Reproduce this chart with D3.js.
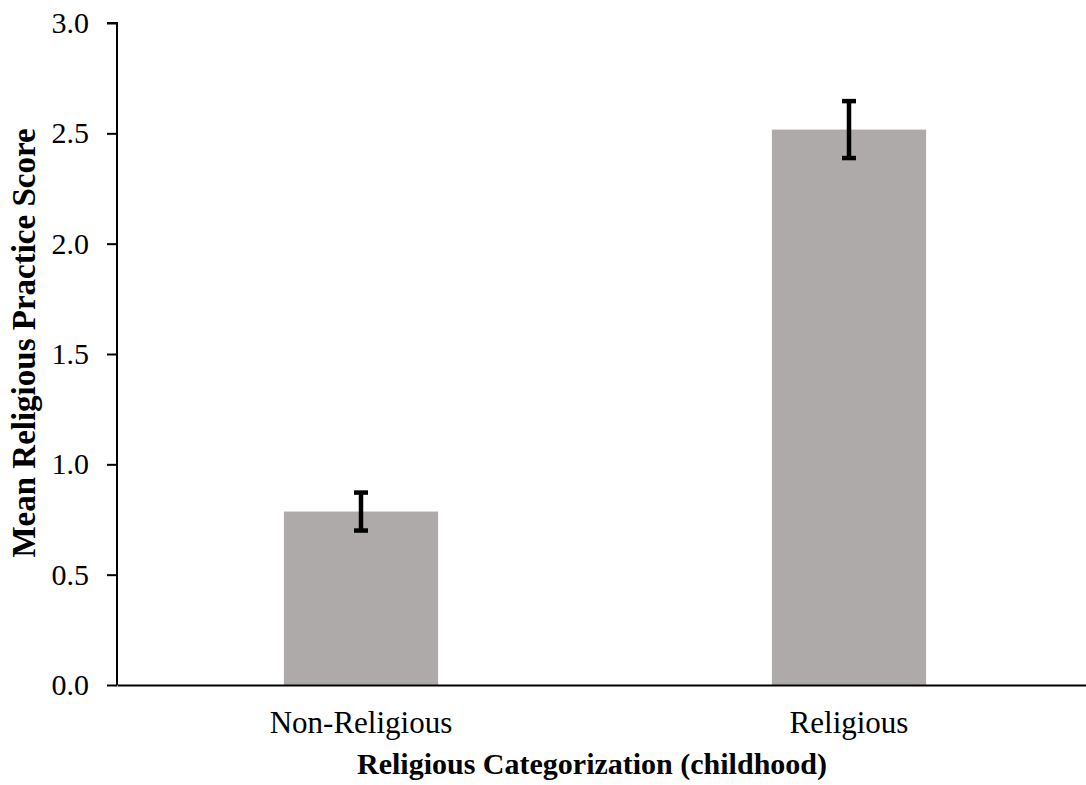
<!DOCTYPE html>
<html>
<head>
<meta charset="utf-8">
<script src="https://cdn.jsdelivr.net/npm/d3@7"></script>
<style>
  html, body { margin: 0; padding: 0; background: #fff; }
  svg { display: block; }
  text { font-family: "Liberation Serif", "Times New Roman", serif; fill: #000; }
</style>
</head>
<body>
<svg id="chart" width="1086" height="785"></svg>
<script>
// Mean religious practice score by childhood religious categorization
const categories = ["Non-Religious", "Religious"];
const means = [0.786, 2.517];
const errors = [0.086, 0.129];
const yTicks = [0.0, 0.5, 1.0, 1.5, 2.0, 2.5, 3.0];

const svg = d3.select("#chart");
const margin = { left: 117, top: 23 };
const plotBottom = 685;

const x = d3.scaleBand()
  .domain(categories)
  .range([margin.left, 1093])
  .padding(0);

const y = d3.scaleLinear()
  .domain([0, 3])
  .range([plotBottom, margin.top]);

const barWidth = x.bandwidth() * 0.316;

// bars
svg.append("g")
  .selectAll("rect")
  .data(categories)
  .join("rect")
  .attr("x", d => x(d) + x.bandwidth() / 2 - barWidth / 2)
  .attr("y", (d, i) => y(means[i]))
  .attr("width", barWidth)
  .attr("height", (d, i) => y(0) - y(means[i]))
  .attr("fill", "#aeaaa9");

// error bars (mean ± error)
const eb = svg.append("g")
  .attr("stroke", "#000")
  .attr("stroke-width", 4.5)
  .attr("fill", "none");
categories.forEach((c, i) => {
  const cx = x(c) + x.bandwidth() / 2;
  const hi = y(means[i] + errors[i]);
  const lo = y(means[i] - errors[i]);
  eb.append("line").attr("x1", cx).attr("x2", cx).attr("y1", hi).attr("y2", lo);
  eb.append("line").attr("x1", cx - 7).attr("x2", cx + 7).attr("y1", hi).attr("y2", hi);
  eb.append("line").attr("x1", cx - 7).attr("x2", cx + 7).attr("y1", lo).attr("y2", lo);
});

// y axis
const yAxis = svg.append("g")
  .attr("transform", `translate(${margin.left},0)`)
  .call(d3.axisLeft(y).tickValues(yTicks).tickFormat(d3.format(".1f")).tickSize(10).tickPadding(18));
yAxis.select(".domain").attr("stroke", "#000").attr("stroke-width", 2).attr("d", `M-10,${y(3)}H0V${y(0)}`);
yAxis.selectAll(".tick line").attr("stroke", "#000").attr("stroke-width", 2);
yAxis.selectAll(".tick text")
  .attr("font-family", "Liberation Serif, serif")
  .attr("font-size", 30)
  .attr("fill", "#000");

// x axis
const xAxis = svg.append("g")
  .attr("transform", `translate(0,${plotBottom})`)
  .call(d3.axisBottom(x).tickSize(0).tickPadding(26));
xAxis.select(".domain").attr("stroke", "#000").attr("stroke-width", 2);
xAxis.selectAll(".tick text")
  .attr("font-family", "Liberation Serif, serif")
  .attr("font-size", 31)
  .attr("fill", "#000");

// axis titles
svg.append("text")
  .attr("x", 592)
  .attr("y", 774)
  .attr("text-anchor", "middle")
  .attr("font-size", 30)
  .attr("font-weight", "bold")
  .text("Religious Categorization (childhood)");

svg.append("text")
  .attr("transform", `translate(35,343) rotate(-90)`)
  .attr("text-anchor", "middle")
  .attr("font-size", 33)
  .attr("font-weight", "bold")
  .text("Mean Religious Practice Score");
</script>
</body>
</html>
